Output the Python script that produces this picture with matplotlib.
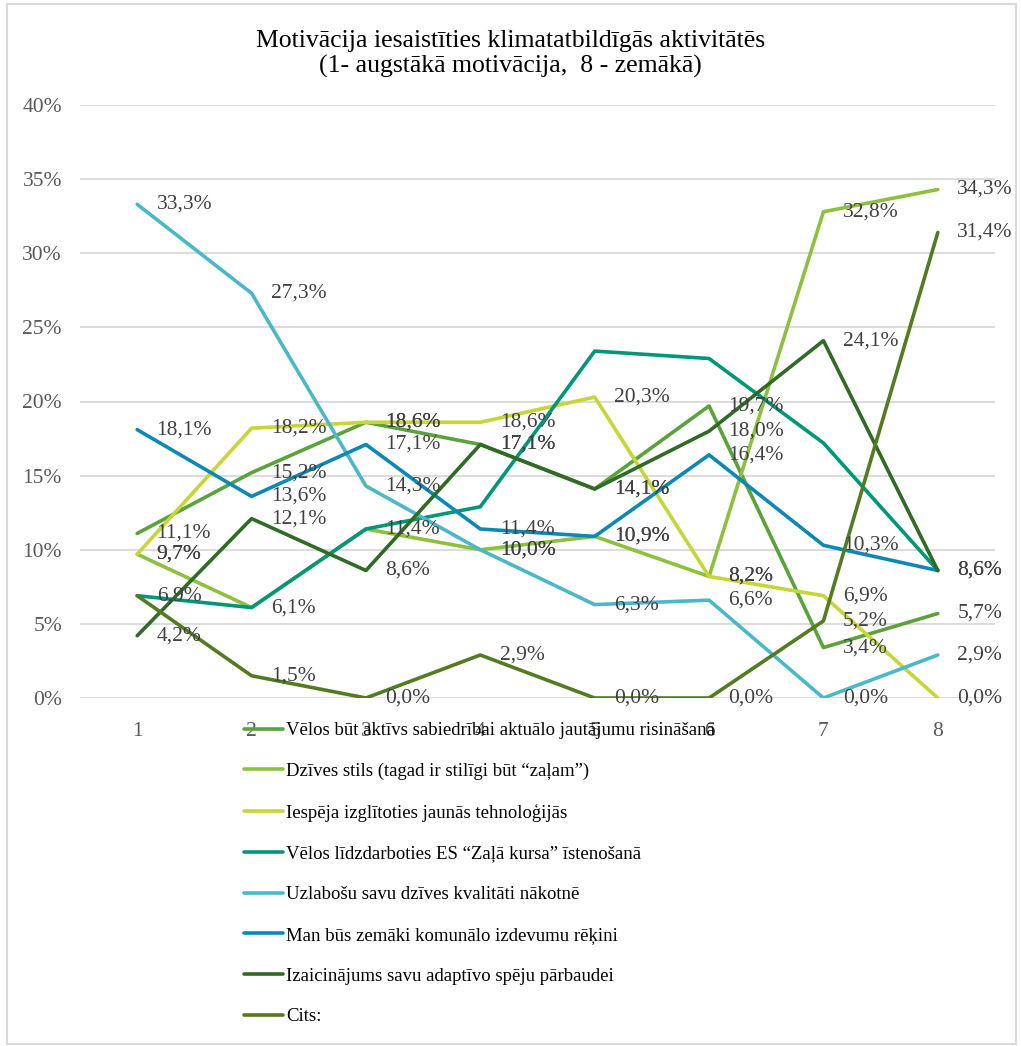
import matplotlib
matplotlib.use("Agg")
import matplotlib.pyplot as plt
from matplotlib.patches import Rectangle
from matplotlib.ticker import FuncFormatter

plt.rcParams['font.family'] = ['Liberation Serif', 'DejaVu Serif']

categories = [1, 2, 3, 4, 5, 6, 7, 8]

series_names = [
    "Vēlos būt aktīvs sabiedrībai aktuālo jautājumu risināšanā",
    "Dzīves stils (tagad ir stilīgi būt “zaļam”)",
    "Iespēja izglītoties jaunās tehnoloģijās",
    "Vēlos līdzdarboties ES “Zaļā kursa” īstenošanā",
    "Uzlabošu savu dzīves kvalitāti nākotnē",
    "Man būs zemāki komunālo izdevumu rēķini",
    "Izaicinājums savu adaptīvo spēju pārbaudei",
    "Cits:",
]

aktivs = [11.1, 15.2, 18.6, 17.1, 14.1, 19.7, 3.4, 5.7]
dzives_stils = [9.7, 6.1, 11.4, 10.0, 10.9, 8.2, 32.8, 34.3]
izglitoties = [9.7, 18.2, 18.6, 18.6, 20.3, 8.2, 6.9, 0.0]
zalais_kurss = [6.9, 6.1, 11.4, 12.9, 23.4, 22.9, 17.2, 8.6]
kvalitate = [33.3, 27.3, 14.3, 10.0, 6.3, 6.6, 0.0, 2.9]
rekini = [18.1, 13.6, 17.1, 11.4, 10.9, 16.4, 10.3, 8.6]
izaicinajums = [4.2, 12.1, 8.6, 17.1, 14.1, 18.0, 24.1, 8.6]
cits = [6.9, 1.5, 0.0, 2.9, 0.0, 0.0, 5.2, 31.4]

all_series = [aktivs, dzives_stils, izglitoties, zalais_kurss,
              kvalitate, rekini, izaicinajums, cits]
show_labels = [True, True, True, False, True, True, True, True]

colors = ["#5aa23a", "#8dc03e", "#c6d636", "#009779",
          "#4bb8c9", "#0c88b4", "#306b26", "#537b22"]

title = "Motivācija iesaistīties klimatatbildīgās aktivitātēs\n(1- augstākā motivācija,  8 - zemākā)"

W, H = 1021, 1046
fig = plt.figure(figsize=(W / 100, H / 100), dpi=100)
ax = fig.add_axes([80 / W, 1 - 698 / H, (995 - 80) / W, (698 - 105) / H])

lines = []
for vals, name, col in zip(all_series, series_names, colors):
    ln, = ax.plot(categories, vals, color=col, lw=2.6, label=name,
                  solid_capstyle='round', solid_joinstyle='round', zorder=3)
    lines.append(ln)

for vals, show in zip(all_series, show_labels):
    if not show:
        continue
    for x, v in zip(categories, vals):
        ax.annotate(f"{v:.1f}%".replace('.', ','), (x, v), xytext=(14, 0),
                    textcoords='offset points', ha='left', va='center',
                    fontsize=15.5, color='#404040', zorder=5)

ax.set_xlim(0.5, 8.5)
ax.set_ylim(0, 40)
ax.set_yticks([0, 5, 10, 15, 20, 25, 30, 35, 40])
ax.yaxis.set_major_formatter(FuncFormatter(lambda v, p: f"{v:.0f}%"))
ax.set_xticks(categories)
ax.set_xticklabels([str(c) for c in categories])
ax.grid(axis='y', color='#d9d9d9', lw=1.3, zorder=0)
ax.set_axisbelow(True)
for s in ax.spines.values():
    s.set_visible(False)
ax.tick_params(axis='both', length=0, colors='#595959', labelsize=15.5)
ax.tick_params(axis='x', pad=17)
ax.tick_params(axis='y', pad=13)

fig.text(0.5, 1 - 54 / H, title, ha='center', va='center', fontsize=18.5,
         color='#000000', linespacing=1.22)

fig.legend(handles=lines, loc='upper left',
           bbox_to_anchor=(244 / W, 1 - 722 / H), frameon=False,
           fontsize=13.5, handlelength=2.1, handletextpad=0.15,
           labelspacing=1.26, borderpad=0, borderaxespad=0)

fig.patches.append(Rectangle((7 / W, 0.002), (W - 12) / W, 1 - 6 / H,
                             transform=fig.transFigure, fill=False,
                             edgecolor='#d9d9d9', lw=1.5))

fig.savefig("out.png", dpi=100, facecolor='white')
